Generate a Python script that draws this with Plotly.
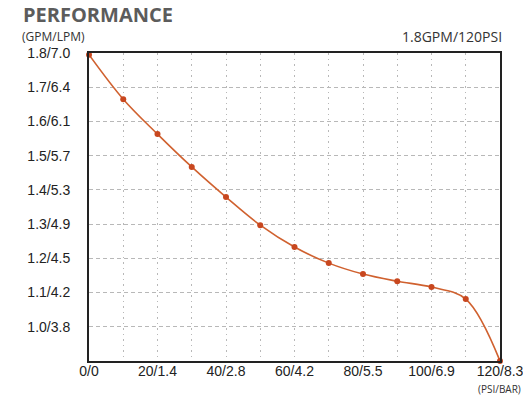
import plotly.graph_objects as go

# Pump performance curve: flow (GPM) against pressure (PSI)
psi = [0, 10, 20, 30, 40, 50, 60, 70, 80, 90, 100, 110, 120]
gpm = [1.795, 1.665, 1.563, 1.467, 1.379, 1.297, 1.233, 1.186, 1.154, 1.133, 1.116, 1.081, 0.90]

x_tickvals = [0, 10, 20, 30, 40, 50, 60, 70, 80, 90, 100, 110, 120]
x_ticktext = ["0/0", "", "20/1.4", "", "40/2.8", "", "60/4.2", "", "80/5.5", "", "100/6.9", "", "120/8.3"]
y_tickvals = [0.9, 1.0, 1.1, 1.2, 1.3, 1.4, 1.5, 1.6, 1.7, 1.8]
y_ticktext = ["", "1.0/3.8", "1.1/4.2", "1.2/4.5", "1.3/4.9", "1.4/5.3", "1.5/5.7", "1.6/6.1", "1.7/6.4", "1.8/7.0"]

LINE = "#d0612f"
MARK = "#c8471f"
GRID = "#b8b8b8"

fig = go.Figure()

fig.add_trace(go.Scatter(
    x=psi, y=gpm, mode="lines+markers",
    line=dict(color=LINE, width=1.6, shape="spline", smoothing=1.0),
    marker=dict(color=MARK, size=6),
    cliponaxis=False, hoverinfo="skip",
))

axis_font = dict(family="Liberation Sans, Arial, sans-serif", size=14, color="#222")

fig.update_xaxes(
    range=[0, 120], tickvals=x_tickvals, ticktext=x_ticktext,
    showgrid=True, gridcolor=GRID, gridwidth=1.2, griddash="1.5px,4px",
    zeroline=False, showline=True, linecolor="#222", linewidth=2,
    mirror=True, ticks="", tickfont=axis_font, ticklabelstandoff=-4,
    ticklabeloverflow="allow", automargin=False,
)
fig.update_yaxes(
    range=[0.9, 1.8], tickvals=y_tickvals, ticktext=y_ticktext,
    showgrid=True, gridcolor=GRID, gridwidth=1.2, griddash="4px,3px",
    zeroline=False, showline=True, linecolor="#222", linewidth=2,
    mirror=True, ticks="", tickfont=axis_font, ticklabelstandoff=14, automargin=False,
)

fig.add_annotation(text="<b>PERFORMANCE</b>", xref="paper", yref="paper", x=-0.166, y=1.125,
                   xanchor="left", yanchor="middle", showarrow=False,
                   font=dict(family="Open Sans, sans-serif", size=20, color="#5c5c5c"))
fig.add_annotation(text="(GPM/LPM)", xref="paper", yref="paper", x=-0.168, y=1.0535,
                   xanchor="left", yanchor="middle", showarrow=False,
                   font=dict(family="Open Sans, sans-serif", size=12, color="#333"))
fig.add_annotation(text="1.8GPM/120PSI", xref="paper", yref="paper", x=1.0097, y=1.052,
                   xanchor="right", yanchor="middle", showarrow=False,
                   font=dict(family="Open Sans, sans-serif", size=14, color="#333"))
fig.add_annotation(text="(PSI/BAR)", xref="paper", yref="paper", x=1.055, y=-0.09,
                   xanchor="right", yanchor="middle", showarrow=False,
                   font=dict(family="Open Sans, sans-serif", size=10, color="#333"))

fig.update_layout(
    width=523, height=397,
    margin=dict(l=89, r=23, t=53, b=36),
    paper_bgcolor="white", plot_bgcolor="white",
    showlegend=False,
)

fig.write_html("out.html")
